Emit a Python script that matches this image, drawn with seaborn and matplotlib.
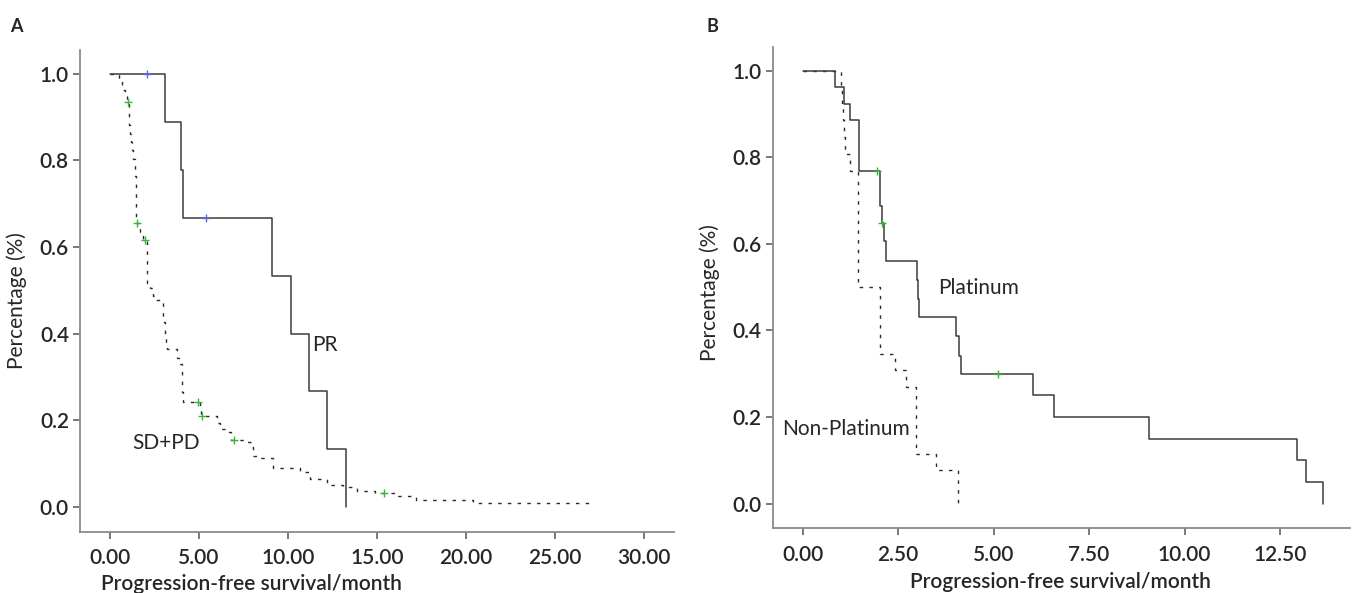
import matplotlib
matplotlib.use("Agg")
import matplotlib.pyplot as plt
import seaborn as sns

# ---- panel A: response groups ----
pr_time = [0, 3.09, 3.99, 4.08, 9.10, 10.15, 11.20, 12.20, 13.24]
pr_surv = [1.0, 0.889, 0.778, 0.667, 0.533, 0.400, 0.267, 0.133, 0.0]
pr_cens_time = [2.08, 5.39]
pr_cens_surv = [1.0, 0.667]

sdpd_time = [0, 0.52, 0.69, 0.85, 0.95, 1.05, 1.09, 1.14, 1.18, 1.25, 1.31, 1.38,
             1.42, 1.45, 1.47, 1.48, 1.69, 1.85, 2.06, 2.07, 2.08, 2.09, 2.25, 2.43,
             2.55, 2.96, 2.98, 3.00, 3.09, 3.10, 3.12, 3.22, 3.74, 3.93, 4.03, 4.05,
             4.07, 4.12, 5.05, 5.12, 5.99, 6.18, 6.55, 6.80, 7.58, 8.00, 8.05, 8.43,
             9.17, 10.67, 11.24, 12.17, 13.10, 13.86, 14.90, 16.10, 17.20, 20.40, 27.06]
sdpd_surv = [1.0, 0.985, 0.963, 0.948, 0.934, 0.910, 0.882, 0.862, 0.842, 0.823, 0.804, 0.784,
             0.763, 0.741, 0.720, 0.656, 0.634, 0.616, 0.587, 0.565, 0.541, 0.518, 0.505, 0.487,
             0.479, 0.456, 0.440, 0.426, 0.410, 0.395, 0.380, 0.364, 0.345, 0.329, 0.311, 0.288,
             0.265, 0.2435, 0.226, 0.210, 0.195, 0.180, 0.172, 0.155, 0.149, 0.138, 0.118, 0.112,
             0.091, 0.080, 0.0645, 0.051, 0.045, 0.0376, 0.0316, 0.026, 0.016, 0.0085, 0.0085]
sdpd_cens_time = [0.99, 1.52, 1.98, 4.96, 5.15, 6.99, 15.4]
sdpd_cens_surv = [0.934, 0.656, 0.616, 0.2435, 0.210, 0.155, 0.0316]

# ---- panel B: treatment groups ----
plat_time = [0, 0.85, 1.09, 1.23, 1.49, 2.03, 2.07, 2.12, 2.18, 2.99, 3.02, 3.05,
             4.02, 4.09, 4.15, 6.03, 6.59, 9.08, 12.95, 13.18, 13.62]
plat_surv = [1.0, 0.962, 0.923, 0.885, 0.769, 0.688, 0.648, 0.606, 0.560, 0.517, 0.473, 0.431,
             0.386, 0.342, 0.300, 0.250, 0.200, 0.150, 0.100, 0.050, 0.0]
plat_cens_time = [1.96, 2.07, 5.12]
plat_cens_surv = [0.769, 0.648, 0.300]

nonplat_time = [0, 1.00, 1.03, 1.06, 1.09, 1.12, 1.23, 1.45, 2.03, 2.42, 2.71, 2.96, 3.49, 4.08]
nonplat_surv = [1.0, 0.962, 0.923, 0.885, 0.846, 0.808, 0.769, 0.500, 0.346, 0.308, 0.269,
                0.115, 0.077, 0.0]

xticks_a = [0, 5, 10, 15, 20, 25, 30]
xticks_b = [0, 2.5, 5, 7.5, 10, 12.5]
yticks = [0.0, 0.2, 0.4, 0.6, 0.8, 1.0]

sns.set_style("white")
plt.rcParams['font.family'] = ['Lato', 'DejaVu Sans']

SOLID = '#3c3c3c'
DOT = '#2a2a2a'
GREEN = '#3cb43c'
BLUE = '#5a6be0'
SPINE = '#8a8a8a'
FS = 15


def km_line(ax, t, s, dotted=False):
    sns.lineplot(x=t, y=s, ax=ax, drawstyle='steps-post', estimator=None, sort=False,
                 color=DOT if dotted else SOLID, linewidth=1.1 if not dotted else 1.0,
                 linestyle=(0, (2.5, 4.5)) if dotted else '-')


def censor(ax, t, s, color):
    sns.scatterplot(x=t, y=s, ax=ax, marker='+', s=36, color=color, linewidth=1.0, zorder=5)


def style_axes(ax, xticks, xlim):
    ax.set_xlim(*xlim)
    ax.set_ylim(-0.057, 1.055)
    ax.set_xticks(xticks)
    ax.set_yticks(yticks)
    ax.set_yticklabels([f'{v:.1f}' for v in yticks])
    ax.set_xticklabels([f'{v:.2f}' for v in xticks])
    for side in ['top', 'right']:
        ax.spines[side].set_visible(False)
    for side in ['left', 'bottom']:
        ax.spines[side].set_color(SPINE)
        ax.spines[side].set_linewidth(1.3)
    ax.tick_params(axis='both', direction='out', length=5, width=1.1, color='#555555',
                   labelsize=FS, bottom=True, left=True)
    ax.tick_params(axis='x', pad=7)
    ax.tick_params(axis='y', pad=3)
    for lab in ax.get_xticklabels() + ax.get_yticklabels():
        lab.set_fontweight('semibold')
    ax.set_ylabel('Percentage (%)', fontsize=FS)
    ax.set_xlabel('Progression-free survival/month', fontsize=FS, fontweight='semibold')


fig = plt.figure(figsize=(13.54, 5.93), dpi=100)
ax1 = fig.add_axes([0.0591, 0.1034, 0.4387, 0.8123])
ax2 = fig.add_axes([0.5707, 0.1091, 0.4264, 0.8121])

# panel A
km_line(ax1, sdpd_time, sdpd_surv, dotted=True)
km_line(ax1, pr_time, pr_surv)
censor(ax1, pr_cens_time, pr_cens_surv, BLUE)
censor(ax1, sdpd_cens_time, sdpd_cens_surv, GREEN)
style_axes(ax1, xticks_a, (-1.69, 31.7))
ax1.text(11.33, 0.373, 'PR', fontsize=FS, va='center', ha='left')
ax1.text(1.27, 0.147, 'SD+PD', fontsize=FS, va='center', ha='left')
ax1.xaxis.set_label_coords(0.288, -0.088)
ax1.yaxis.set_label_coords(-0.089, 0.48)

# panel B
km_line(ax2, nonplat_time, nonplat_surv, dotted=True)
km_line(ax2, plat_time, plat_surv)
censor(ax2, plat_cens_time, plat_cens_surv, GREEN)
style_axes(ax2, xticks_b, (-0.78, 14.33))
ax2.text(3.54, 0.4975, 'Platinum', fontsize=FS, va='center', ha='left')
ax2.text(-0.545, 0.172, 'Non-Platinum', fontsize=FS, va='center', ha='left')
ax2.xaxis.set_label_coords(0.499, -0.091)
ax2.yaxis.set_label_coords(-0.091, 0.49)

fig.text(10 / 1354, 1 - 27 / 593, 'A', fontsize=13, fontweight='bold', va='center')
fig.text(706 / 1354, 1 - 27 / 593, 'B', fontsize=13, fontweight='bold', va='center')

fig.savefig('out.png', dpi=100)
